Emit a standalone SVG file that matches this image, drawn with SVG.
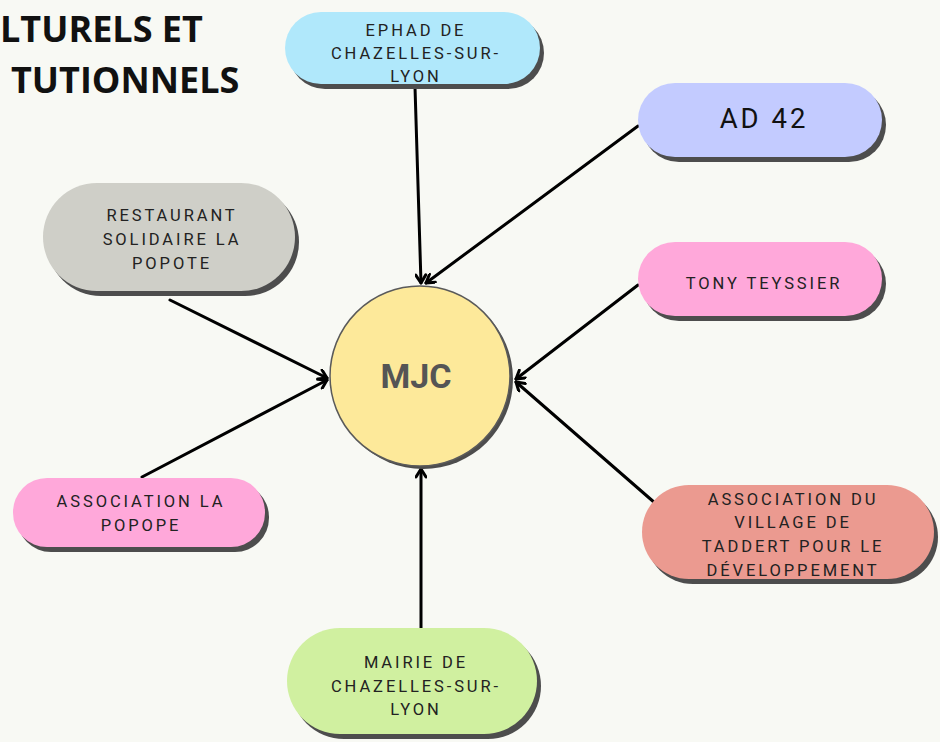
<svg xmlns="http://www.w3.org/2000/svg" width="940" height="742" viewBox="0 0 940 742">
<defs>
<marker id="arr" viewBox="0 0 12 12" refX="10" refY="6" markerWidth="12" markerHeight="12" markerUnits="userSpaceOnUse" orient="auto">
<path d="M2,1 L10,6 L2,11" fill="none" stroke="#000" stroke-width="3" stroke-linecap="round" stroke-linejoin="round"/>
</marker>
</defs>
<style>
.bg{fill:#f8f9f4}
.sh{fill:#4d4d4d}
.lbl{font-family:Roboto,"Liberation Sans",sans-serif;font-size:16.5px;letter-spacing:2.9px;fill:#222;text-anchor:middle}
.title{font-family:"Open Sans","Liberation Sans",sans-serif;font-weight:bold;font-size:36px;fill:#111}
.conn line{stroke:#000;stroke-width:3;marker-end:url(#arr);stroke-linecap:round}
</style>
<rect class="bg" x="0" y="0" width="940" height="742"/>
<g id="title">
<text class="title" x="0" y="42">LTURELS ET</text>
<text class="title" x="11" y="93">TUTIONNELS</text>
</g>
<g class="conn" id="connectors">
<line x1="415" y1="87" x2="421" y2="283"/>
<line x1="638" y1="126" x2="426" y2="283"/>
<line x1="638" y1="285" x2="516" y2="379"/>
<line x1="655" y1="503" x2="516" y2="382"/>
<line x1="170" y1="300" x2="327" y2="378"/>
<line x1="142" y1="477" x2="327" y2="380"/>
<line x1="421" y1="628" x2="421" y2="469"/>
</g>
<g id="mjc">
<circle class="sh" cx="423" cy="379" r="90"/>
<circle cx="420" cy="376" r="90" fill="#fde99a" stroke="#5a5a5a" stroke-width="1.5"/>
<text x="416" y="388" font-family="Roboto,'Liberation Sans',sans-serif" font-weight="bold" font-size="34" fill="#555" text-anchor="middle">MJC</text>
</g>
<g id="ephad">
<rect class="sh" x="289" y="17" width="255" height="72" rx="36"/>
<rect x="285" y="12" width="255" height="72" rx="36" fill="#b0e8fb"/>
<text class="lbl" x="416" y="36">EPHAD DE</text>
<text class="lbl" x="416" y="59">CHAZELLES-SUR-</text>
<text class="lbl" x="416" y="82">LYON</text>
</g>
<g id="ad42">
<rect class="sh" x="642" y="88" width="244" height="74" rx="37"/>
<rect x="638" y="83" width="244" height="74" rx="37" fill="#c3cbff"/>
<text x="764" y="128" font-family="Roboto,'Liberation Sans',sans-serif" font-size="27.5" letter-spacing="3" fill="#111" text-anchor="middle">AD 42</text>
</g>
<g id="tony">
<rect class="sh" x="642" y="247" width="244" height="74" rx="37"/>
<rect x="638" y="242" width="244" height="74" rx="37" fill="#ffa8da"/>
<text class="lbl" x="764" y="289">TONY TEYSSIER</text>
</g>
<g id="restaurant">
<rect class="sh" x="47" y="188" width="252" height="108" rx="54"/>
<rect x="43" y="183" width="252" height="108" rx="54" fill="#cfcfc8"/>
<text class="lbl" x="172" y="221">RESTAURANT</text>
<text class="lbl" x="172" y="245">SOLIDAIRE LA</text>
<text class="lbl" x="172" y="269">POPOTE</text>
</g>
<g id="popope">
<rect class="sh" x="17" y="483" width="252" height="69" rx="34"/>
<rect x="13" y="478" width="252" height="69" rx="34" fill="#ffa8da"/>
<text class="lbl" x="141" y="507">ASSOCIATION LA</text>
<text class="lbl" x="141" y="531">POPOPE</text>
</g>
<g id="taddert">
<rect class="sh" x="646" y="490" width="292" height="94" rx="47"/>
<rect x="642" y="485" width="292" height="94" rx="47" fill="#eb9a90"/>
<text class="lbl" x="793" y="505">ASSOCIATION DU</text>
<text class="lbl" x="793" y="528">VILLAGE DE</text>
<text class="lbl" x="793" y="552">TADDERT POUR LE</text>
<text class="lbl" x="793" y="576">DÉVELOPPEMENT</text>
</g>
<g id="mairie">
<rect class="sh" x="291" y="633" width="250" height="106" rx="53"/>
<rect x="287" y="628" width="250" height="106" rx="53" fill="#d0f0a0"/>
<text class="lbl" x="416" y="668">MAIRIE DE</text>
<text class="lbl" x="416" y="692">CHAZELLES-SUR-</text>
<text class="lbl" x="416" y="715">LYON</text>
</g>
</svg>
